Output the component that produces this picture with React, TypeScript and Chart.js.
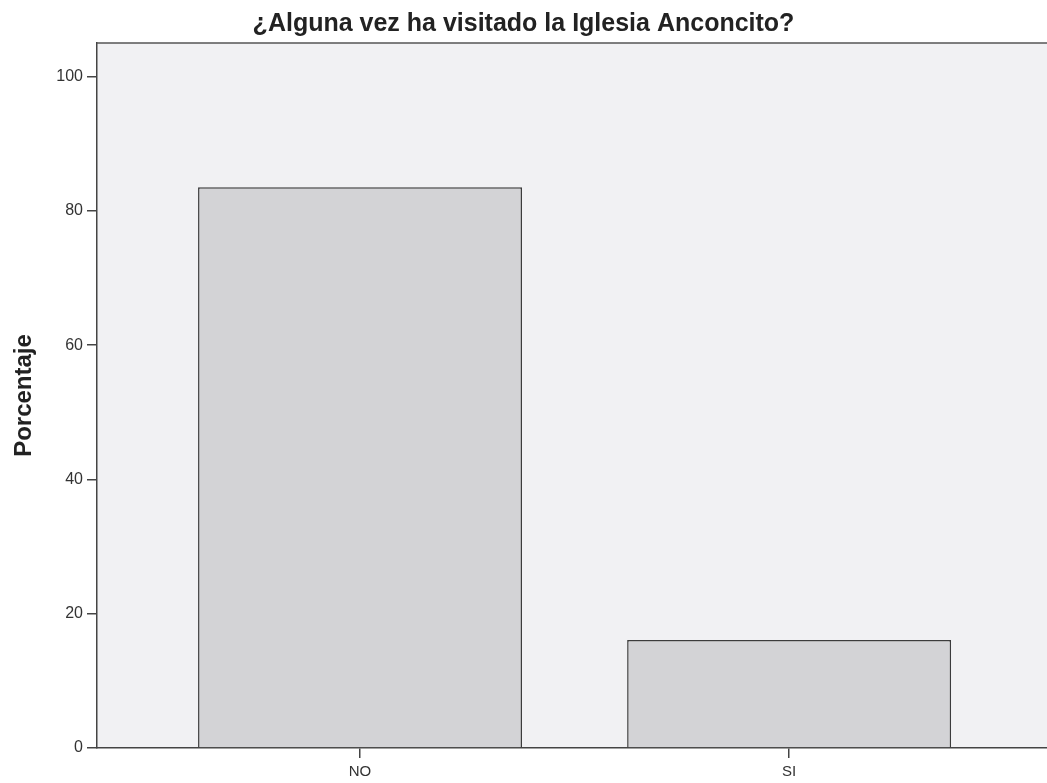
import React, { useEffect, useRef } from "react";
import { Chart, registerables } from "chart.js";

Chart.register(...registerables);

const categories = ["NO", "SI"];
const percentages = [83.5, 16.1];
const yTickValues = [0, 20, 40, 60, 80, 100];
const titleText = "¿Alguna vez ha visitado la Iglesia Anconcito?";
const yAxisTitle = "Porcentaje";

const framePlugin = {
  id: "frame",
  beforeDraw(chart: any) {
    const { ctx, chartArea } = chart;
    ctx.save();
    ctx.fillStyle = "#f1f1f3";
    ctx.fillRect(chartArea.left, chartArea.top, chartArea.right - chartArea.left, chartArea.bottom - chartArea.top);
    ctx.restore();
  },
  afterDraw(chart: any) {
    const { ctx, chartArea } = chart;
    ctx.save();
    ctx.strokeStyle = "#555";
    ctx.lineWidth = 1.5;
    ctx.beginPath();
    ctx.moveTo(chartArea.left, chartArea.top);
    ctx.lineTo(chartArea.right, chartArea.top);
    ctx.stroke();
    ctx.restore();
  },
};

export default function App() {
  const ref = useRef<HTMLCanvasElement>(null);
  useEffect(() => {
    if (!ref.current) return;
    Chart.defaults.font.family = "'Liberation Sans', Arial, sans-serif";
    const chart = new Chart(ref.current, {
      type: "bar",
      data: {
        datasets: [
          {
            data: percentages.map((v, i) => ({ x: i, y: v })),
            backgroundColor: "#d3d3d6",
            borderColor: "#3c3c3c",
            borderWidth: 1.5,
            barPercentage: 0.755,
            categoryPercentage: 1,
          },
        ],
      },
      options: {
        animation: false,
        responsive: false,
        maintainAspectRatio: false,
        layout: { padding: 0 },
        plugins: {
          legend: { display: false },
          tooltip: { enabled: false },
          title: {
            display: true,
            text: titleText,
            color: "#222",
            font: { size: 25, weight: "bold" },
            padding: { top: 9, bottom: 4 },
          },
        },
        scales: {
          x: {
            type: "linear",
            offset: false,
            min: -0.613,
            max: 1.601,
            afterBuildTicks: (scale: any) => {
              scale.ticks = categories.map((_, i) => ({ value: i }));
            },
            afterFit: (scale: any) => {
              scale.height = 35;
            },
            ticks: {
              callback: (v: any) => categories[v] ?? "",
              color: "#333",
              font: { size: 15 },
              padding: 5,
              maxRotation: 0,
            },
            grid: { offset: false, drawOnChartArea: false, tickLength: 10, color: "#444", lineWidth: 1.5 },
            border: { color: "#444", width: 1.5 },
          },
          y: {
            min: 0,
            max: 105,
            afterBuildTicks: (scale: any) => {
              scale.ticks = yTickValues.map((v) => ({ value: v }));
            },
            afterFit: (scale: any) => {
              scale.width = 97;
            },
            ticks: { color: "#333", font: { size: 16 }, padding: 4 },
            grid: { drawOnChartArea: false, tickLength: 10, color: "#444", lineWidth: 1.5 },
            border: { color: "#444", width: 1.5 },
            title: {
              display: true,
              text: yAxisTitle,
              color: "#222",
              font: { size: 24, weight: "bold" },
              padding: { top: 10, bottom: 0 },
            },
          },
        },
      },
      plugins: [framePlugin],
    } as any);
    return () => chart.destroy();
  }, []);
  return (
    <div style={{ position: "fixed", left: 0, top: 0, width: 1047, height: 783, background: "#fff" }}>
      <canvas ref={ref} width={1047} height={783} style={{ display: "block" }} />
    </div>
  );
}
